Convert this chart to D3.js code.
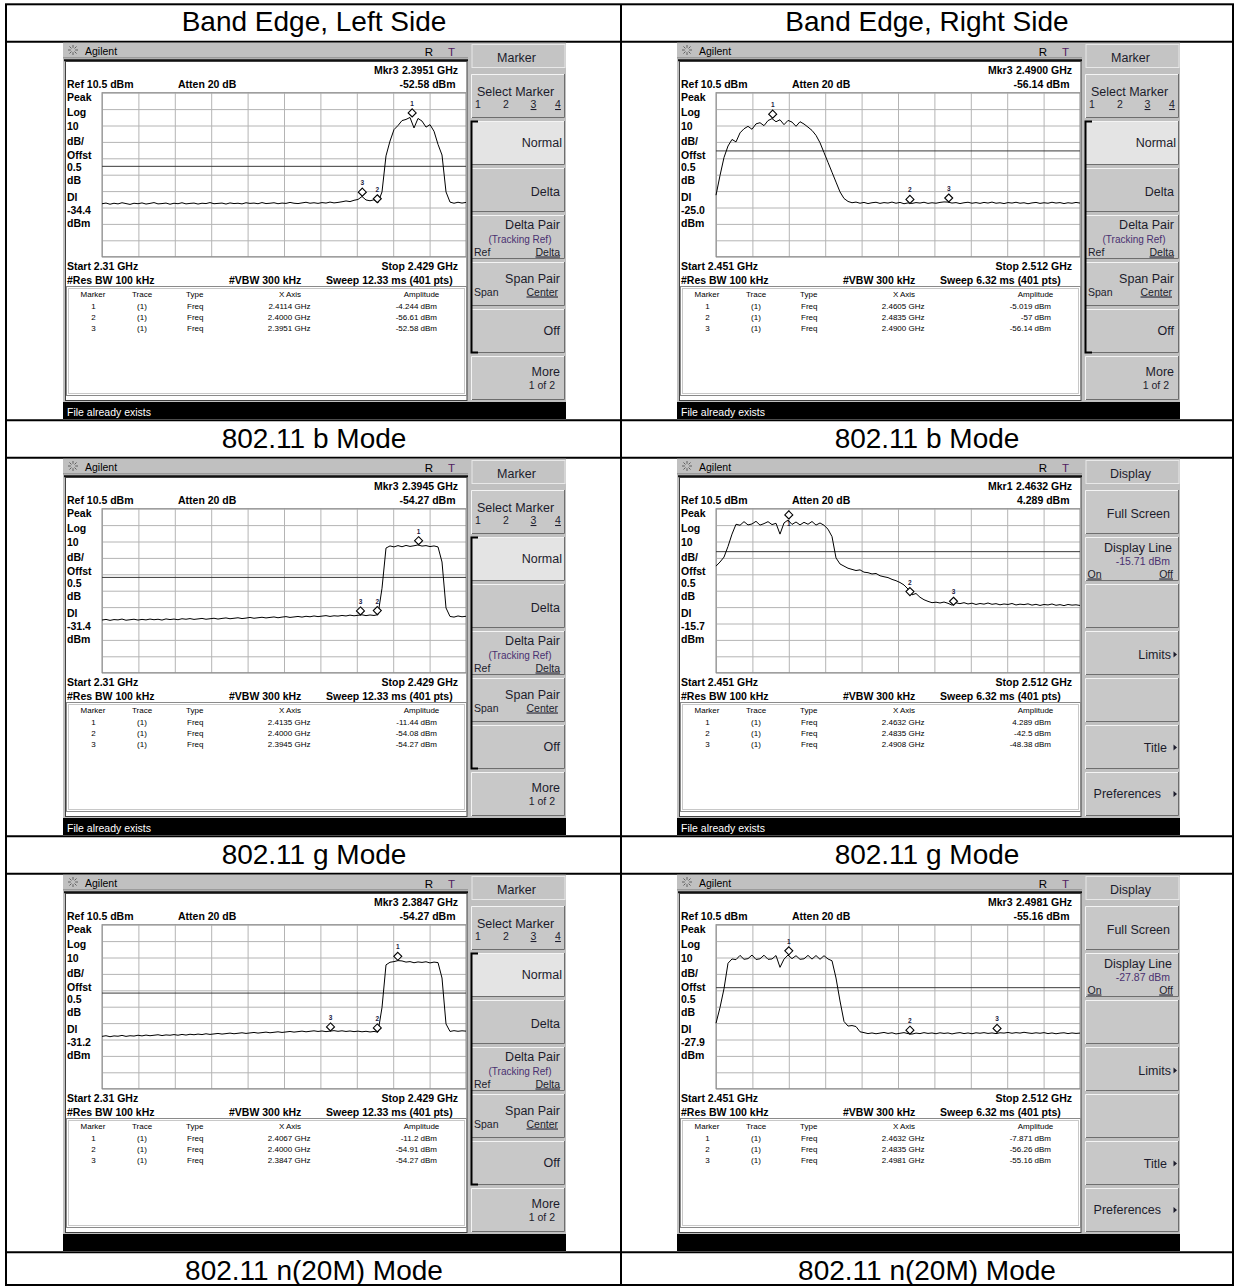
<!DOCTYPE html>
<html>
<head>
<meta charset="utf-8">
<script src="https://d3js.org/d3.v7.min.js"></script>
<style>
  body { margin: 0; background: #fff; }
  text { font-family: "Liberation Sans", Arial, sans-serif; }
  .big { font-size: 28px; fill: #000; }
  .info { font-size: 10.5px; font-weight: bold; fill: #000; }
  .tbl { font-size: 8px; fill: #000; }
  .key { font-size: 12.5px; fill: #1c1c2c; }
  .keysm { font-size: 10.5px; fill: #1c1c2c; }
  .purple { fill: #4a3070; }
  .grid line { stroke: #b4b4b4; stroke-width: 1px; }
  .grid path { display: none; }
  .trace { fill: none; stroke: #000; stroke-width: 1px; }
  .mark { fill: #fff; stroke: #000; stroke-width: 1.1px; }
  .mlabel { font-size: 6.5px; font-weight: bold; fill: #1a1a40; }
</style>
</head>
<body>
<svg id="chart" width="1234" height="1286"></svg>
<script>
// ---------------- data ----------------
var columnTitles = ["Band Edge, Left Side", "Band Edge, Right Side"];
var modeCaptions = ["802.11 b Mode", "802.11 g Mode", "802.11 n(20M) Mode"];

var refLevel = 10.5;   // dBm at top of graticule
var dbPerDiv = 10;

// one entry per screen: b-left, b-right, g-left, g-right, n-left, n-right
var startFreq   = [2.31, 2.451, 2.31, 2.451, 2.31, 2.451];
var stopFreq    = [2.429, 2.512, 2.429, 2.512, 2.429, 2.512];
var sweepTimes  = ["12.33", "6.32", "12.33", "6.32", "12.33", "6.32"];
var displayLine = [-34.4, -25.0, -31.4, -15.7, -31.2, -27.9];
var activeMarker = [3, 3, 3, 1, 3, 3];
var menuTitles  = ["Marker", "Marker", "Marker", "Display", "Marker", "Display"];
var statusMsgs  = ["File already exists", "File already exists", "File already exists", "File already exists", "", ""];
var dlKeyValues = ["", "", "", "-15.71 dBm", "", "-27.87 dBm"];

var markerFreq = [
  [2.4114, 2.4000, 2.3951],
  [2.4605, 2.4835, 2.4900],
  [2.4135, 2.4000, 2.3945],
  [2.4632, 2.4835, 2.4908],
  [2.4067, 2.4000, 2.3847],
  [2.4632, 2.4835, 2.4981]
];
var markerAmp = [
  [-4.244, -56.61, -52.58],
  [-5.019, -57, -56.14],
  [-11.44, -54.08, -54.27],
  [4.289, -42.5, -48.38],
  [-11.2, -54.91, -54.27],
  [-7.871, -56.26, -55.16]
];

// traces in dBm, evenly spaced from start to stop
var traceBLeft = [
  -57.2,-56.8,-57.5,-56.9,-57.3,-56.6,-57.1,-57.6,-56.9,-57.2,
  -56.7,-57.4,-57.0,-56.5,-57.3,-57.1,-56.8,-57.5,-56.9,-57.2,
  -56.6,-57.3,-57.0,-56.8,-57.4,-56.9,-57.1,-56.5,-57.2,-57.0,
  -56.8,-57.4,-56.7,-57.1,-56.9,-57.3,-56.6,-57.0,-56.8,-57.2,
  -56.5,-57.1,-56.9,-56.6,-57.2,-56.8,-57.0,-56.4,-56.9,-57.1,
  -56.7,-56.3,-56.9,-56.6,-57.0,-56.5,-56.8,-56.2,-56.7,-56.4,
  -56.0,-55.5,-55.9,-55.1,-54.6,-52.8,-54.9,-55.4,-54.8,-56.6,
  -50.0,-28.0,-19.0,-12.0,-9.5,-6.5,-5.8,-4.6,-11.0,-5.2,
  -6.8,-10.5,-9.0,-13.0,-21.0,-27.5,-50.0,-56.2,-56.9,-56.3,-56.8,-56.4
];
var traceBRight = [
  -52,-40,-29,-22,-18,-19.5,-14,-11.5,-10,-11.8,
  -8.5,-7.8,-9.6,-6.5,-5.3,-7.2,-6.0,-9.0,-6.4,-7.4,
  -10.0,-7.2,-8.6,-10.5,-12.5,-15.5,-20,-26,-32,-38,
  -44,-50,-54,-55.8,-56.6,
  -56.2,-56.9,-56.4,-57.1,-56.6,-56.3,-57.0,-56.5,-56.8,-56.2,
  -56.9,-56.4,-57.2,-56.7,-57.0,-56.5,-56.8,-56.3,-57.0,-56.6,
  -56.9,-56.4,-56.1,-56.2,-56.8,-56.5,-57.1,-56.6,-56.3,-56.9,
  -56.5,-57.0,-56.4,-56.8,-56.2,-56.9,-56.6,-57.1,-56.5,-56.8,
  -56.3,-56.9,-56.6,-57.2,-56.7,-56.4,-57.0,-56.6,-56.9,-56.3,
  -56.8,-56.5,-57.1,-56.6,-56.9,-56.4,-56.8
];
var traceGLeft = [
  -57.4,-57.0,-57.6,-57.1,-57.3,-56.8,-57.5,-57.2,-56.9,-57.4,
  -57.0,-57.3,-56.8,-57.2,-56.9,-57.4,-56.7,-57.1,-56.8,-57.2,
  -56.6,-56.9,-56.5,-57.0,-56.7,-56.4,-56.9,-56.6,-56.3,-56.8,
  -56.4,-56.1,-56.6,-56.3,-56.0,-56.5,-56.2,-55.8,-56.3,-56.0,
  -55.7,-56.1,-55.8,-55.5,-56.0,-55.6,-55.3,-55.8,-55.5,-55.2,
  -55.6,-55.1,-55.4,-54.9,-55.3,-55.0,-54.7,-55.2,-54.8,-55.0,
  -54.6,-54.9,-54.4,-54.8,-54.5,-54.2,-54.7,-54.3,-54.6,-54.1,
  -38.0,-13.5,-12.2,-12.8,-12.0,-12.7,-11.9,-12.5,-12.1,-11.6,
  -12.3,-12.0,-12.6,-12.2,-12.8,-22.0,-50.0,-55.2,-55.6,-54.9,-55.4,-55.1
];
var traceGRight = [
  -24.5,-22.0,-19.0,-12.5,-5.0,1.0,0.4,2.6,0.6,1.2,
  2.8,0.5,1.4,2.6,0.8,1.6,-5.0,1.8,3.6,0.9,
  2.4,0.6,2.2,1.0,2.7,0.5,1.8,0.4,-2.0,-6.5,
  -19.5,-23.2,-24.5,-25.8,-26.5,-27.2,-26.8,-28.2,-28.5,-29.3,
  -29.0,-30.4,-31.0,-31.5,-32.6,-33.4,-34.5,-36.0,-38.5,-42.0,
  -41.2,-43.5,-45.0,-46.0,-46.8,-46.5,-47.0,-46.4,-47.2,-48.3,
  -46.9,-47.4,-46.8,-47.6,-47.1,-47.9,-47.3,-47.7,-47.0,-47.8,
  -47.4,-48.1,-47.6,-47.9,-47.3,-48.2,-47.7,-48.0,-47.5,-48.3,
  -47.8,-48.5,-47.9,-48.2,-47.6,-48.4,-48.0,-48.6,-47.9,-48.3,
  -48.1,-48.5
];
var traceNLeft = [
  -57.6,-57.2,-57.8,-57.3,-57.5,-57.0,-57.6,-57.2,-57.4,-56.9,
  -57.3,-56.8,-57.2,-56.9,-56.6,-57.1,-56.7,-56.9,-56.5,-56.9,
  -56.4,-56.8,-56.3,-56.6,-56.2,-56.5,-56.0,-56.4,-56.1,-55.8,
  -56.2,-55.9,-55.6,-56.0,-55.7,-55.4,-55.8,-55.5,-55.2,-55.6,
  -55.3,-55.0,-55.4,-55.1,-54.8,-55.2,-54.9,-54.6,-55.0,-54.7,
  -54.4,-54.8,-54.5,-54.2,-54.6,-54.3,-54.7,-54.4,-54.1,-54.5,
  -54.2,-54.6,-54.3,-54.7,-54.4,-54.8,-54.5,-54.9,-54.6,-55.0,
  -40.0,-14.0,-12.4,-12.0,-11.4,-11.6,-12.3,-12.0,-12.7,-12.2,
  -12.5,-12.1,-12.8,-12.3,-12.6,-22.0,-50.0,-54.6,-54.1,-54.5,-54.2,-54.4
];
var traceNRight = [
  -49.6,-40,-28.5,-13,-10.4,-10.8,-8.2,-10.6,-10.2,-8.0,
  -10.7,-10.3,-8.1,-10.6,-10.4,-8.3,-15.5,-10.5,-8.0,-10.2,
  -8.4,-10.6,-10.3,-8.2,-10.5,-8.3,-10.6,-8.4,-10.4,-11.5,
  -22,-36,-48.5,-51.3,-51.0,-51.6,-54.8,
  -55.3,-55.9,-55.5,-56.0,-55.6,-55.2,-55.8,-55.4,-56.1,-55.7,
  -55.3,-55.9,-56.2,-55.6,-55.9,-55.3,-55.8,-55.5,-56.0,-55.4,
  -55.8,-55.5,-56.1,-55.6,-55.3,-55.9,-55.5,-56.0,-55.4,-55.7,
  -55.3,-55.8,-55.5,-55.9,-55.4,-55.6,-55.2,-55.7,-55.3,-55.6,
  -55.1,-55.5,-55.8,-55.4,-55.7,-55.3,-55.9,-55.5,-56.0,-55.6,
  -55.4,-55.9,-55.5,-55.8,-55.6
];
var traces = [traceBLeft, traceBRight, traceGLeft, traceGRight, traceNLeft, traceNRight];

// ---------------- drawing ----------------
var svg = d3.select("#chart");

function label(g, x, y, s, cls, anchor) {
  return g.append("text").attr("x", x).attr("y", y).attr("class", cls)
    .attr("text-anchor", anchor || "start").text(s);
}

// outer table
svg.append("rect").attr("x", 6).attr("y", 4.3).attr("width", 1227).attr("height", 1280.7)
  .attr("fill", "none").attr("stroke", "#000").attr("stroke-width", 2);
svg.append("line").attr("x1", 621).attr("x2", 621).attr("y1", 4.3).attr("y2", 1285)
  .attr("stroke", "#000").attr("stroke-width", 2);
[41.7, 420.2, 457.7, 836.2, 873.7, 1252.2].forEach(function(yy) {
  svg.append("line").attr("x1", 6).attr("x2", 1233).attr("y1", yy).attr("y2", yy)
    .attr("stroke", "#000").attr("stroke-width", 2);
});

var colCenters = [314, 927];
columnTitles.forEach(function(t, c) { label(svg, colCenters[c], 30.5, t, "big", "middle"); });
modeCaptions.forEach(function(t, r) {
  colCenters.forEach(function(cx) { label(svg, cx, 447.5 + r * 416, t, "big", "middle"); });
});

var gridLeft = 102, gridRight = 466, gridTop = 92.7, gridBottom = 256.7;

function drawKey(g, y0, fill) {
  g.append("rect").attr("x", 471).attr("y", y0).attr("width", 94).attr("height", 44).attr("fill", fill);
  g.append("path").attr("d", "M471.5," + (y0 + 44) + "V" + (y0 + 0.5) + "H565")
    .attr("fill", "none").attr("stroke", "#f4f4f4");
  g.append("path").attr("d", "M472," + (y0 + 43.5) + "H564.5V" + y0)
    .attr("fill", "none").attr("stroke", "#6e6e6e");
}

function arrow(g, x, yb) {
  g.append("path").attr("d", "M" + x + "," + (yb - 7) + "l3.5,3l-3.5,3z").attr("fill", "#1c1c2c");
}

function drawScreen(k) {
  var g = svg.append("g")
    .attr("transform", "translate(" + (k % 2) * 614 + "," + Math.floor(k / 2) * 416 + ")");

  // frame and title bar
  g.append("rect").attr("x", 63).attr("y", 42.7).attr("width", 503).attr("height", 377)
    .attr("fill", "#c0c0c0");
  var sun = g.append("g").attr("transform", "translate(73,50)");
  d3.range(8).forEach(function(i) {
    var a = i * Math.PI / 4;
    sun.append("line").attr("x1", Math.cos(a) * 2.2).attr("y1", Math.sin(a) * 2.2)
      .attr("x2", Math.cos(a) * 5).attr("y2", Math.sin(a) * 5)
      .attr("stroke", "#555").attr("stroke-width", 0.9);
  });
  label(g, 85, 54.5, "Agilent", "keysm").style("fill", "#000");
  label(g, 429, 56, "R", "key", "middle").style("fill", "#000").style("font-size", "11.5px");
  label(g, 451.5, 56, "T", "key", "middle").style("fill", "#502060").style("font-size", "11.5px");
  g.append("line").attr("x1", 63).attr("x2", 468).attr("y1", 57.8).attr("y2", 57.8).attr("stroke", "#8a8a8a");
  g.append("line").attr("x1", 64).attr("x2", 468).attr("y1", 60.3).attr("y2", 60.3)
    .attr("stroke", "#111").attr("stroke-width", 2);

  // white display area
  g.append("rect").attr("x", 65.5).attr("y", 61.5).attr("width", 401.5).attr("height", 339)
    .attr("fill", "#fff").attr("stroke", "#404040");

  var x = d3.scaleLinear().domain([startFreq[k], stopFreq[k]]).range([gridLeft, gridRight]);
  var y = d3.scaleLinear().domain([refLevel, refLevel - 10 * dbPerDiv]).range([gridTop, gridBottom]);
  var fmt4 = d3.format(".4f");

  // readouts
  var am = activeMarker[k] - 1;
  label(g, 374, 74, "Mkr" + activeMarker[k], "info");
  label(g, 458, 74, fmt4(markerFreq[k][am]) + " GHz", "info", "end");
  label(g, 67, 88, "Ref " + refLevel + " dBm", "info");
  label(g, 178, 88, "Atten 20 dB", "info");
  label(g, 455.5, 88, String(markerAmp[k][am]) + " dBm", "info", "end");
  var side = ["Peak", "Log", String(dbPerDiv), "dB/", "Offst", "0.5", "dB", "Dl",
              displayLine[k].toFixed(1), "dBm"];
  var sideY = [101, 115.5, 130, 144.5, 158.5, 171, 184, 201, 213.5, 226.5];
  side.forEach(function(s, i) { label(g, 67, sideY[i], s, "info"); });
  label(g, 67, 270, "Start " + startFreq[k] + " GHz", "info");
  label(g, 458, 270, "Stop " + stopFreq[k] + " GHz", "info", "end");
  label(g, 67, 284, "#Res BW 100 kHz", "info");
  label(g, 229, 284, "#VBW 300 kHz", "info");
  label(g, 326, 284, "Sweep " + sweepTimes[k] + " ms (401 pts)", "info");

  // graticule
  var xDivs = d3.range(11).map(function(i) { return startFreq[k] + i * (stopFreq[k] - startFreq[k]) / 10; });
  var yDivs = d3.range(11).map(function(i) { return refLevel - i * dbPerDiv; });
  g.append("g").attr("class", "grid").attr("transform", "translate(0," + gridBottom + ")")
    .call(d3.axisBottom(x).tickValues(xDivs).tickSize(-(gridBottom - gridTop)).tickFormat(""));
  g.append("g").attr("class", "grid").attr("transform", "translate(" + gridLeft + ",0)")
    .call(d3.axisLeft(y).tickValues(yDivs).tickSize(-(gridRight - gridLeft)).tickFormat(""));
  g.append("rect").attr("x", gridLeft).attr("y", gridTop).attr("width", gridRight - gridLeft)
    .attr("height", gridBottom - gridTop).attr("fill", "none").attr("stroke", "#8c8c8c");

  // display line
  g.append("line").attr("x1", gridLeft).attr("x2", gridRight)
    .attr("y1", y(displayLine[k])).attr("y2", y(displayLine[k]))
    .attr("stroke", "#3a3a3a").attr("stroke-width", 1);

  // trace
  var tr = traces[k];
  var step = (stopFreq[k] - startFreq[k]) / (tr.length - 1);
  var line = d3.line()
    .x(function(d, i) { return x(startFreq[k] + i * step); })
    .y(function(d) { return y(d); });
  g.append("path").datum(tr).attr("class", "trace").attr("d", line);

  // markers
  markerFreq[k].forEach(function(f, j) {
    var px = x(f), py = y(markerAmp[k][j]);
    g.append("path").attr("class", "mark")
      .attr("d", "M" + px + "," + (py - 8) + "l4,4l-4,4l-4,-4z");
    var ly = (py - 11 < gridTop + 4) ? py + 7 : py - 11;
    label(g, px, ly, String(j + 1), "mlabel", "middle");
  });

  // marker table
  g.append("rect").attr("x", 66.5).attr("y", 286.5).attr("width", 400).attr("height", 109)
    .attr("fill", "none").attr("stroke", "#8a8a8a");
  g.append("rect").attr("x", 68.5).attr("y", 288.5).attr("width", 396).attr("height", 105)
    .attr("fill", "none").attr("stroke", "#c8c8c8");
  label(g, 93, 297, "Marker", "tbl", "middle");
  label(g, 142, 297, "Trace", "tbl", "middle");
  label(g, 186, 297, "Type", "tbl");
  label(g, 290, 297, "X Axis", "tbl", "middle");
  label(g, 421.5, 297, "Amplitude", "tbl", "middle");
  markerFreq[k].forEach(function(f, j) {
    var yy = 308.5 + j * 11;
    label(g, 93.5, yy, String(j + 1), "tbl", "middle");
    label(g, 142, yy, "(1)", "tbl", "middle");
    label(g, 187, yy, "Freq", "tbl");
    label(g, 310.5, yy, fmt4(f) + " GHz", "tbl", "end");
    label(g, 437, yy, String(markerAmp[k][j]) + " dBm", "tbl", "end");
  });

  // status bar
  g.append("rect").attr("x", 63).attr("y", 402).attr("width", 503).attr("height", 17.5)
    .attr("fill", "#000");
  label(g, 67, 415.5, statusMsgs[k], "keysm").style("fill", "#fff");

  // softkeys
  g.append("rect").attr("x", 472).attr("y", 44.5).attr("width", 93).attr("height", 23)
    .attr("fill", "#c4c4c4").attr("stroke", "#e8e8e8");
  label(g, 516.5, 62, menuTitles[k], "key", "middle");
  var keyTops = [74, 121, 168, 215, 262, 309, 356];
  if (menuTitles[k] === "Marker") {
    keyTops.forEach(function(t, i) { drawKey(g, t, i === 1 ? "#e4e4e4" : "#c8c8c8"); });
    label(g, 515.5, 95.5, "Select Marker", "key", "middle");
    [478, 506, 533.5, 558].forEach(function(xx, i) {
      var t = label(g, xx, 108, String(i + 1), "keysm", "middle");
      if (i >= 2) t.attr("text-decoration", "underline");
    });
    label(g, 562, 147, "Normal", "key", "end");
    label(g, 560, 196, "Delta", "key", "end");
    label(g, 560, 229, "Delta Pair", "key", "end");
    label(g, 520, 242.5, "(Tracking Ref)", "keysm purple", "middle").style("font-size", "10px");
    label(g, 474, 255.5, "Ref", "keysm");
    label(g, 560, 255.5, "Delta", "keysm", "end").attr("text-decoration", "underline");
    label(g, 560, 283, "Span Pair", "key", "end");
    label(g, 474, 295.5, "Span", "keysm");
    label(g, 558, 295.5, "Center", "keysm", "end").attr("text-decoration", "underline");
    label(g, 560, 334.5, "Off", "key", "end");
    label(g, 560, 376, "More", "key", "end");
    label(g, 555, 389, "1 of 2", "keysm", "end");
    g.append("path").attr("d", "M478,121.5H471.5V352.5H478").attr("fill", "none")
      .attr("stroke", "#000").attr("stroke-width", 2);
  } else {
    keyTops.forEach(function(t) { drawKey(g, t, "#c8c8c8"); });
    label(g, 556, 101.5, "Full Screen", "key", "end");
    label(g, 558, 135.5, "Display Line", "key", "end");
    label(g, 556, 148.5, dlKeyValues[k], "keysm purple", "end");
    label(g, 473.5, 161.5, "On", "keysm").attr("text-decoration", "underline");
    label(g, 559, 161.5, "Off", "keysm", "end").attr("text-decoration", "underline");
    label(g, 557, 242.5, "Limits", "key", "end");
    arrow(g, 559.5, 242.5);
    label(g, 553, 335.5, "Title", "key", "end");
    arrow(g, 559.5, 335.5);
    label(g, 547, 382, "Preferences", "key", "end");
    arrow(g, 559.5, 382);
  }
}

d3.range(6).forEach(drawScreen);
</script>
</body>
</html>
